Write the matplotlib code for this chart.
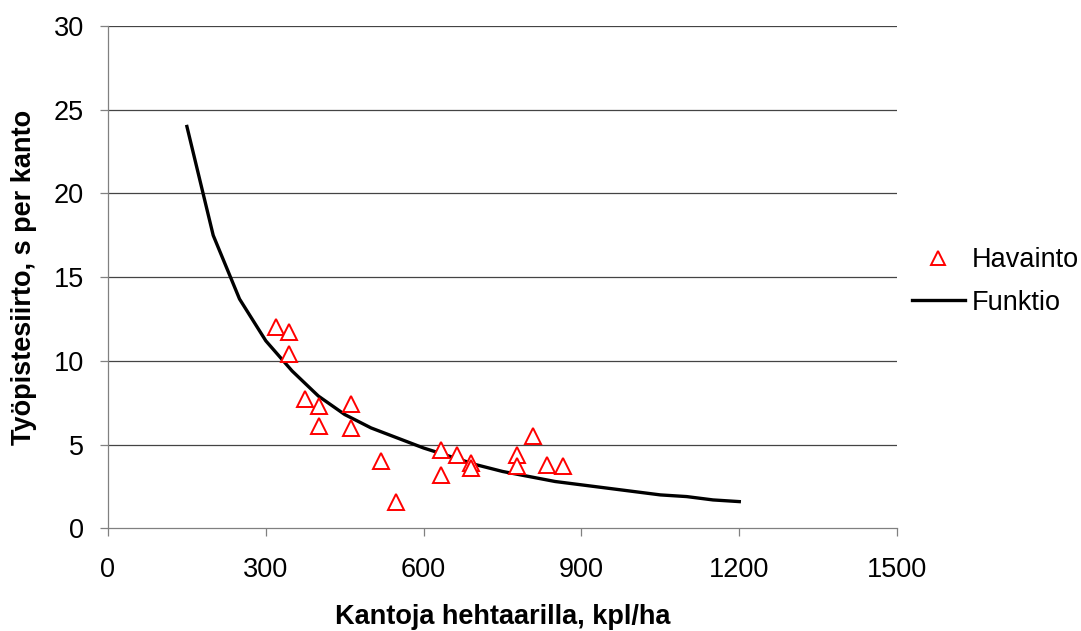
import numpy as np
import matplotlib
matplotlib.use("Agg")
import matplotlib.pyplot as plt

plt.rcParams['font.family'] = ['Liberation Sans', 'DejaVu Sans']

# observations (Havainto)
obs_x = [319, 344, 344, 375, 401, 401, 462, 462, 519, 548,
         633, 633, 664, 690, 690, 778, 778, 808, 835, 865]
obs_y = [12.0, 11.7, 10.4, 7.7, 7.3, 6.1, 7.4, 6.0, 4.0, 1.6,
         4.7, 3.2, 4.4, 3.9, 3.6, 4.4, 3.7, 5.5, 3.8, 3.7]

# fitted function (Funktio)
fun_x = [150, 200, 250, 300, 350, 400, 450, 500, 550, 600, 650,
         700, 750, 800, 850, 900, 950, 1000, 1050, 1100, 1150, 1200]
fun_y = [24.0, 17.5, 13.7, 11.2, 9.4, 7.9, 6.8, 6.0, 5.4, 4.8, 4.3,
         3.8, 3.4, 3.1, 2.8, 2.6, 2.4, 2.2, 2.0, 1.9, 1.7, 1.6]

x_ticks = [0, 300, 600, 900, 1200, 1500]
y_ticks = [0, 5, 10, 15, 20, 25, 30]

fs = 19.5

fig = plt.figure(figsize=(10.81, 6.31), dpi=100)
ax = fig.add_axes([0.0999, 0.1626, 0.7300, 0.7962])

for yv in y_ticks[1:]:
    ax.axhline(yv, color='#444444', lw=0.9, zorder=1)

ax.plot(obs_x, obs_y, linestyle='none', marker='^', markersize=11,
        markerfacecolor='white', markeredgecolor='#ff0000', markeredgewidth=1.4,
        label='Havainto', zorder=3)
ax.plot(fun_x, fun_y, color='black', lw=2.4, label='Funktio', zorder=2)

ax.set_xlim(0, 1500)
ax.set_ylim(0, 30)
ax.set_xticks(x_ticks)
ax.set_yticks(y_ticks)
ax.tick_params(labelsize=fs, direction='out', length=5.5, width=0.9, color='#808080')
ax.tick_params(axis='x', pad=15)
ax.tick_params(axis='y', pad=12)

for side in ['top', 'right']:
    ax.spines[side].set_visible(False)
for side in ['left', 'bottom']:
    ax.spines[side].set_color('#808080')
    ax.spines[side].set_linewidth(0.9)

ax.set_xlabel('Kantoja hehtaarilla, kpl/ha', fontsize=fs, fontweight='bold', labelpad=15)
ax.set_ylabel('Työpistesiirto, s per kanto', fontsize=fs, fontweight='bold', labelpad=12)

leg = ax.legend(loc='upper left', bbox_to_anchor=(0.8437, 0.608), bbox_transform=fig.transFigure,
                frameon=False, fontsize=fs, handlelength=1.95, handletextpad=0.27,
                labelspacing=0.6, borderpad=0, borderaxespad=0, markerscale=0.88)

fig.savefig('out.png', dpi=100)
